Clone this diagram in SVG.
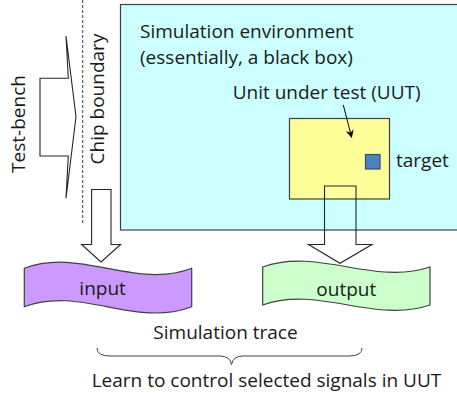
<svg xmlns="http://www.w3.org/2000/svg" width="457" height="393" viewBox="0 0 457 393">
<style>
text{font-family:"Open Sans","Liberation Sans",sans-serif;font-size:19px;fill:#1a1a1a}
.ol{stroke:#404040;stroke-width:1.2}
.ar{fill:#fff;stroke:#262626;stroke-width:1.1;stroke-linejoin:miter}
</style>
<defs>
<marker id="ah" viewBox="0 0 10 10" refX="9" refY="5" markerWidth="8" markerHeight="8" orient="auto" markerUnits="userSpaceOnUse">
<path d="M0,0 L10,5 L0,10 L3,5 Z" fill="#000"/>
</marker>
</defs>
<rect width="457" height="393" fill="#fff"/>
<g id="testbench">
<text transform="translate(25,124) rotate(-90)" text-anchor="middle">Test-bench</text>
</g>
<g id="chip-boundary">
<line x1="82.7" y1="0" x2="82.7" y2="223" stroke="#404040" stroke-width="1" stroke-dasharray="3,2"/>
<text transform="translate(104,99) rotate(-90)" text-anchor="middle">Chip boundary</text>
</g>
<g id="environment">
<rect x="120.5" y="4.5" width="345" height="225.5" fill="#CCFFFF" class="ol"/>
<text x="140" y="37.7">Simulation environment</text>
<text x="140" y="63.5">(essentially, a black box)</text>
</g>
<g id="uut">
<rect x="289.5" y="118.5" width="100" height="80.5" fill="#FFFF99" class="ol"/>
<text x="232.7" y="99.3">Unit under test (UUT)</text>
</g>
<g id="target">
<rect x="365.5" y="154.5" width="14.5" height="14.5" fill="#4F81BD" stroke="#2F4F75" stroke-width="1.2"/>
<text x="396" y="166.7">target</text>
</g>
<g id="input">
<path d="M24.3,268.3 C80,247 136,290 191.7,268.3 L191.7,306.7 C136,328.4 80,285.4 24.3,306.7 Z" fill="#CC99FF" class="ol"/>
<text x="102.6" y="295" text-anchor="middle">input</text>
</g>
<g id="output">
<path d="M262.7,267 C318,247 374,286 430,267 L430,305 C374,324 318,285 262.7,305 Z" fill="#CCFFCC" class="ol"/>
<text x="346.3" y="296" text-anchor="middle">output</text>
</g>
<g id="trace-label">
<text x="225.5" y="339.3" text-anchor="middle">Simulation trace</text>
<text x="91.7" y="386.7">Learn to control selected signals in UUT</text>
</g>
<g id="connectors">
<polygon class="ar" points="40,78.3 68.3,78.3 66,36 76,116.7 66,198.3 68.3,156 40,156"/>
<polygon class="ar" points="91.6,189.5 111,189.5 111,244.5 120.6,244.5 101,262 81.6,244.5 91.6,244.5"/>
<polygon class="ar" style="fill:none" points="324.5,186 356,186 356,244.5 372,244.5 340,263.3 308.5,244.5 324.5,244.5"/>
<line x1="343.3" y1="105" x2="351.6" y2="137.3" stroke="#000" stroke-width="1" marker-end="url(#ah)"/>
<path d="M97,348 Q97,356 110,356 L220,356 Q230,356 231.5,364.5 Q233,356 243,356 L349,356 Q362,356 362,348" fill="none" stroke="#404040" stroke-width="1"/>
</g>
</svg>
